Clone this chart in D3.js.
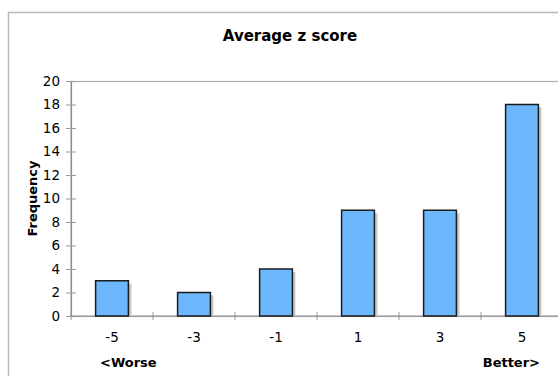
<!DOCTYPE html>
<html>
<head>
<meta charset="utf-8">
<script src="https://cdn.jsdelivr.net/npm/d3@7"></script>
<style>
  html, body { margin: 0; padding: 0; background: #fff; }
  svg { display: block; }
  text { font-family: "DejaVu Sans", Verdana, sans-serif; fill: #000; }
</style>
</head>
<body>
<svg id="chart" width="558" height="376"></svg>
<script>
// Histogram of average z scores
const categories = ["-5", "-3", "-1", "1", "3", "5"];
const frequencies = [3, 2, 4, 9, 9, 18];
const yTicks = [0, 2, 4, 6, 8, 10, 12, 14, 16, 18, 20];

const svg = d3.select("#chart");

const plot = { left: 71, top: 81, right: 563, bottom: 316 };

// Outer chart frame (extends past the visible window on the right and bottom)
svg.append("rect")
  .attr("x", 8.5).attr("y", 12.5)
  .attr("width", 600).attr("height", 420)
  .attr("fill", "#fff")
  .attr("stroke", "#b8b8b8").attr("stroke-width", 1.5);

const x = d3.scaleBand()
  .domain(categories)
  .range([plot.left, plot.right])
  .paddingInner(0.6)
  .paddingOuter(0.3);

const y = d3.scaleLinear()
  .domain([0, 20])
  .range([plot.bottom, plot.top]);

// Plot area border
svg.append("rect")
  .attr("x", plot.left).attr("y", plot.top + 0.5)
  .attr("width", plot.right - plot.left).attr("height", plot.bottom - plot.top)
  .attr("fill", "none")
  .attr("stroke", "#b0b0b0").attr("stroke-width", 1.2);

// Y axis
const yAxis = d3.axisLeft(y).tickValues(yTicks).tickSize(5).tickPadding(6);
const yg = svg.append("g").attr("transform", `translate(${plot.left},0)`).call(yAxis);
yg.attr("font-size", null).attr("font-family", null);
yg.select(".domain").attr("stroke", "#8c8c8c").attr("stroke-width", 1.2);
yg.selectAll(".tick line").attr("stroke", "#9a9a9a").attr("x2", 5).attr("x1", -5);
yg.selectAll(".tick text")
  .attr("x", -11)
  .style("font-size", "13.5px")
  .style("font-family", "'DejaVu Sans', Verdana, sans-serif");

// X axis baseline and tick marks at category boundaries
const step = x.step();
const boundaries = d3.range(categories.length + 1).map(i => plot.left + i * step);
svg.append("line")
  .attr("x1", plot.left).attr("x2", plot.right)
  .attr("y1", y(0)).attr("y2", y(0))
  .attr("stroke", "#8c8c8c").attr("stroke-width", 1.2);
svg.selectAll(".xtick").data(boundaries).join("line")
  .attr("class", "xtick")
  .attr("x1", d => d).attr("x2", d => d)
  .attr("y1", y(0) - 4).attr("y2", y(0) + 4)
  .attr("stroke", "#9a9a9a").attr("stroke-width", 1);

// Category labels
svg.selectAll(".xlabel").data(categories).join("text")
  .attr("class", "xlabel")
  .attr("x", d => x(d) + x.bandwidth() / 2)
  .attr("y", 342)
  .attr("text-anchor", "middle")
  .style("font-size", "13.5px")
  .text(d => d);

const bars = categories.map((c, i) => ({ c, v: frequencies[i] }));

// Bar shadows
svg.selectAll(".shadow").data(bars).join("rect")
  .attr("class", "shadow")
  .attr("x", d => x(d.c) + 3)
  .attr("y", d => y(d.v) + 3)
  .attr("width", x.bandwidth())
  .attr("height", d => y(0) - y(d.v) - 3)
  .attr("fill", "#c6c6c6");

// Bars
svg.selectAll(".bar").data(bars).join("rect")
  .attr("class", "bar")
  .attr("x", d => x(d.c))
  .attr("y", d => y(d.v))
  .attr("width", x.bandwidth())
  .attr("height", d => y(0) - y(d.v))
  .attr("fill", "#6db7fc")
  .attr("stroke", "#1a1a1a").attr("stroke-width", 1.5);

// Title
svg.append("text")
  .attr("x", 290).attr("y", 41)
  .attr("text-anchor", "middle")
  .style("font-size", "15px").attr("font-weight", "bold")
  .text("Average z score");

// Y axis title
svg.append("text")
  .attr("transform", `translate(37,${(plot.top + plot.bottom) / 2}) rotate(-90)`)
  .attr("text-anchor", "middle")
  .style("font-size", "13px").attr("font-weight", "bold")
  .text("Frequency");

// Direction labels
svg.append("text")
  .attr("x", 100).attr("y", 367)
  .style("font-size", "13px").attr("font-weight", "bold")
  .text("<Worse");
svg.append("text")
  .attr("x", 540).attr("y", 367)
  .attr("text-anchor", "end")
  .style("font-size", "13px").attr("font-weight", "bold")
  .text("Better>");
</script>
</body>
</html>
